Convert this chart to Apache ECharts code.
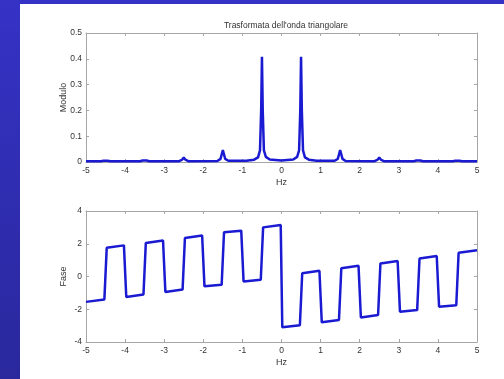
<!DOCTYPE html>
<html>
<head>
<meta charset="utf-8">
<script src="https://cdn.jsdelivr.net/npm/echarts@6/dist/echarts.min.js"></script>
<style>
  html, body { margin: 0; padding: 0; }
  #chart { width: 504px; height: 379px; }
</style>
</head>
<body>
<div id="chart"></div>
<script>
// frequency axis ticks (Hz)
var hzTicks = [-5, -4, -3, -2, -1, 0, 1, 2, 3, 4, 5];

// modulo (magnitude) of the spectrum
var modX = [-5, -4.62, -4.55, -4.5, -4.45, -4.38, -3.62, -3.55, -3.5, -3.45, -3.38,
  -2.62, -2.55, -2.5, -2.45, -2.38, -1.64, -1.56, -1.52, -1.5, -1.48, -1.44, -1.36,
  -0.9, -0.7, -0.6, -0.55, -0.52, -0.5, -0.48, -0.45, -0.4, -0.3, 0,
  0.3, 0.4, 0.45, 0.48, 0.5, 0.52, 0.55, 0.6, 0.7, 0.9,
  1.36, 1.44, 1.48, 1.5, 1.52, 1.56, 1.64, 2.38, 2.45, 2.5, 2.55, 2.62,
  3.38, 3.45, 3.5, 3.55, 3.62, 4.38, 4.45, 4.5, 4.55, 4.62, 5];
var modY = [0.003, 0.003, 0.005, 0.008, 0.005, 0.003, 0.003, 0.006, 0.01, 0.006, 0.003,
  0.003, 0.008, 0.017, 0.008, 0.003, 0.004, 0.012, 0.035, 0.046, 0.035, 0.012, 0.005,
  0.005, 0.009, 0.018, 0.045, 0.2, 0.408, 0.2, 0.045, 0.02, 0.01, 0.006,
  0.01, 0.02, 0.045, 0.2, 0.408, 0.2, 0.045, 0.018, 0.009, 0.005,
  0.005, 0.012, 0.035, 0.046, 0.035, 0.012, 0.004, 0.003, 0.008, 0.017, 0.008, 0.003,
  0.003, 0.006, 0.01, 0.006, 0.003, 0.003, 0.005, 0.008, 0.005, 0.003, 0.003];

// fase (phase) of the spectrum
var phaseX = [-5, -4.53, -4.47, -4.03, -3.97, -3.53, -3.47, -3.03, -2.97, -2.53, -2.47,
  -2.03, -1.97, -1.53, -1.47, -1.03, -0.97, -0.53, -0.47, -0.02, 0.02, 0.47, 0.53,
  0.97, 1.03, 1.47, 1.53, 1.97, 2.03, 2.47, 2.53, 2.97, 3.03, 3.47, 3.53, 3.97,
  4.03, 4.47, 4.53, 5];
var phaseY = [-1.55, -1.4, 1.75, 1.9, -1.25, -1.1, 2.05, 2.2, -0.95, -0.8, 2.35,
  2.5, -0.6, -0.5, 2.7, 2.8, -0.3, -0.2, 3.0, 3.14, -3.1, -2.98, 0.2,
  0.35, -2.8, -2.65, 0.5, 0.65, -2.5, -2.35, 0.8, 0.95, -2.15, -2.05, 1.1, 1.25,
  -1.85, -1.75, 1.45, 1.6];

function pairs(xs, ys) {
  return xs.map(function (x, i) { return [x, ys[i]]; });
}

var axisGray = '#a6a6a6';
var textCol = '#333';
var font = 'Liberation Sans, Arial, sans-serif';

function xAx(grid, pos, labels) {
  return {
    type: 'value', gridIndex: grid, position: pos,
    min: hzTicks[0], max: hzTicks[hzTicks.length - 1], interval: 1,
    name: labels ? 'Hz' : '', nameLocation: 'middle', nameGap: 16, nameMoveOverlap: false,
    nameTextStyle: { color: textCol, fontSize: 9, fontFamily: font },
    axisLine: { show: true, onZero: false, lineStyle: { color: axisGray } },
    axisTick: { show: true, inside: true, length: 3, lineStyle: { color: axisGray } },
    axisLabel: { show: labels, color: textCol, fontSize: 8.5, fontFamily: font, margin: 4 },
    splitLine: { show: false }
  };
}

function yAx(grid, pos, min, max, step, name) {
  return {
    type: 'value', gridIndex: grid, position: pos,
    min: min, max: max, interval: step,
    name: name || '', nameLocation: 'middle', nameGap: 18, nameMoveOverlap: false,
    nameTextStyle: { color: textCol, fontSize: 9, fontFamily: font },
    axisLine: { show: true, onZero: false, lineStyle: { color: axisGray } },
    axisTick: { show: true, inside: true, length: 3, lineStyle: { color: axisGray } },
    axisLabel: { show: !!name, color: textCol, fontSize: 8.5, fontFamily: font, margin: 4 },
    splitLine: { show: false }
  };
}

var chart = echarts.init(document.getElementById('chart'));
chart.setOption({
  animation: false,
  backgroundColor: new echarts.graphic.LinearGradient(0, 0, 0, 1, [
    { offset: 0, color: '#3532c6' },
    { offset: 1, color: '#2a289c' }
  ]),
  graphic: [{
    type: 'rect', left: 20, top: 4, z: -10,
    shape: { width: 484, height: 375 },
    style: { fill: '#ffffff' }
  }],
  title: {
    text: "Trasformata dell'onda triangolare",
    left: 281, top: 16, textAlign: 'center',
    textStyle: { color: textCol, fontSize: 8.5, fontWeight: 'normal', fontFamily: font }
  },
  grid: [
    { left: 86, top: 33, width: 391, height: 129 },
    { left: 86, top: 211, width: 391, height: 131 }
  ],
  xAxis: [xAx(0, 'bottom', true), xAx(0, 'top', false), xAx(1, 'bottom', true), xAx(1, 'top', false)],
  yAxis: [
    yAx(0, 'left', 0, 0.5, 0.1, 'Modulo'), yAx(0, 'right', 0, 0.5, 0.1),
    yAx(1, 'left', -4, 4, 2, 'Fase'), yAx(1, 'right', -4, 4, 2)
  ],
  series: [
    {
      type: 'line', xAxisIndex: 0, yAxisIndex: 0, showSymbol: false, clip: false,
      lineStyle: { color: '#1a1ad2', width: 2.5 },
      data: pairs(modX, modY)
    },
    {
      type: 'line', xAxisIndex: 2, yAxisIndex: 2, showSymbol: false, clip: false,
      lineStyle: { color: '#1a1ad2', width: 2.5 },
      data: pairs(phaseX, phaseY)
    }
  ]
});
</script>
</body>
</html>
